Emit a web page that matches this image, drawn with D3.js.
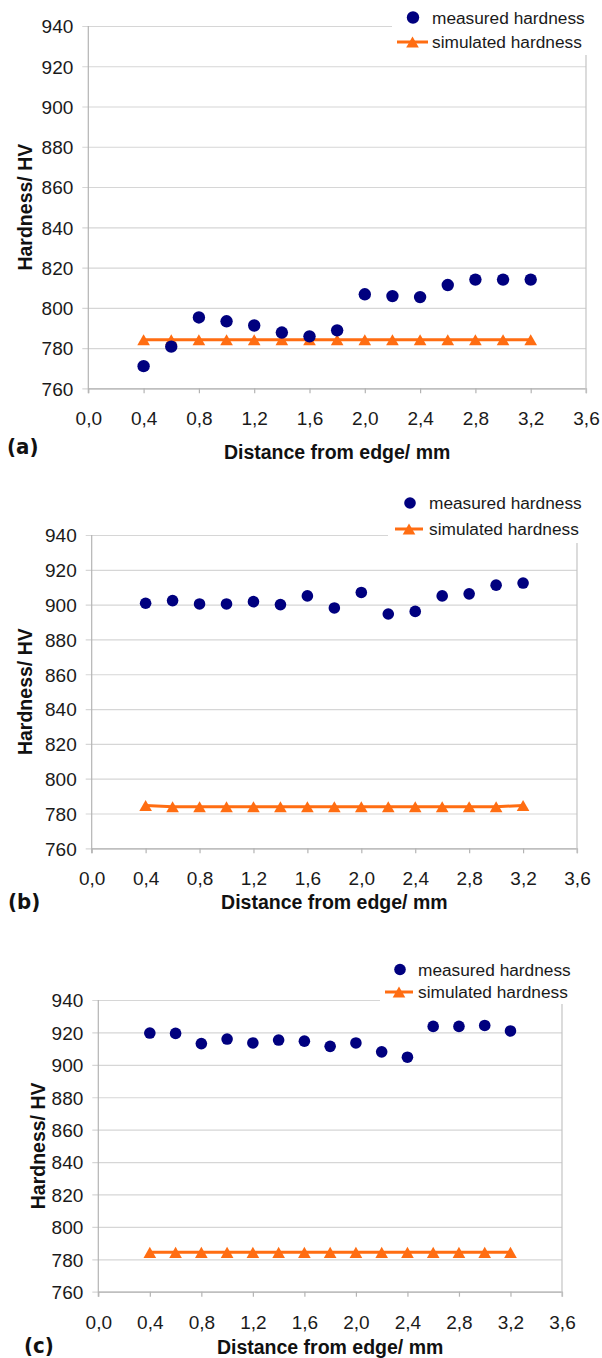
<!DOCTYPE html>
<html><head><meta charset="utf-8">
<script src="https://cdn.jsdelivr.net/npm/d3@7"></script>
<style>
body{margin:0;background:#fff;}
svg{display:block;font-family:"Liberation Sans",Arial,sans-serif;}
</style>
</head><body>
<svg id="chart" width="602" height="1358"></svg>
<script>
// ---------- data ----------
const xValues = [0.4, 0.6, 0.8, 1.0, 1.2, 1.4, 1.6, 1.8, 2.0, 2.2, 2.4, 2.6, 2.8, 3.0, 3.2];
const xTicks = [0, 0.4, 0.8, 1.2, 1.6, 2.0, 2.4, 2.8, 3.2, 3.6];
const yTicks = [760, 780, 800, 820, 840, 860, 880, 900, 920, 940];
const seriesNames = ["measured hardness", "simulated hardness"];
const panelTags = ["(a)", "(b)", "(c)"];
const xTitle = "Distance from edge/ mm";
const yTitle = "Hardness/ HV";

const measuredA  = [771.0, 780.7, 795.2, 793.3, 791.2, 787.7, 785.8, 788.8, 806.7, 805.8, 805.3, 811.3, 814.0, 814.0, 814.0];
const simulatedA = [784.1, 784.1, 784.1, 784.1, 784.1, 784.1, 784.1, 784.1, 784.1, 784.1, 784.1, 784.1, 784.1, 784.1, 784.1];
const measuredB  = [900.8, 902.3, 900.4, 900.4, 901.7, 900.0, 905.0, 898.1, 907.0, 894.6, 896.1, 905.0, 906.2, 911.2, 912.4];
const simulatedB = [784.6, 783.9, 783.9, 783.9, 783.9, 783.9, 783.9, 783.9, 783.9, 783.9, 783.9, 783.9, 783.9, 783.9, 784.6];
const measuredC  = [919.6, 919.4, 913.1, 915.9, 913.5, 915.3, 914.6, 911.4, 913.5, 908.0, 904.7, 923.7, 923.7, 924.3, 920.9];
const simulatedC = [784.3, 784.3, 784.3, 784.3, 784.3, 784.3, 784.3, 784.3, 784.3, 784.3, 784.3, 784.3, 784.3, 784.3, 784.3];

// ---------- layout ----------
const panels = [
  {measured: measuredA, simulated: simulatedA, tag: panelTags[0],
   left: 88.3, right: 586, top: 26, bottom: 388.3, r: 6.2,
   tagX: 7, tagY: 446, titleY: 452, yTitleX: 25,
   gapX: 392, rightStartY: 55,
   lg: {dotX: 413, row1: 17.5, row2: 42, lx1: 397, lx2: 428, tx: 432}},
  {measured: measuredB, simulated: simulatedB, tag: panelTags[1],
   left: 91.7, right: 577, top: 535, bottom: 848.3, r: 5.8,
   tagX: 8, tagY: 901, titleY: 902, yTitleX: 25,
   gapX: 388, rightStartY: 543,
   lg: {dotX: 410, row1: 503, row2: 529, lx1: 395, lx2: 423, tx: 429}},
  {measured: measuredC, simulated: simulatedC, tag: panelTags[2],
   left: 98.3, right: 562, top: 1000, bottom: 1291.7, r: 5.8,
   tagX: 24, tagY: 1345, titleY: 1347, yTitleX: 38,
   gapX: 380, rightStartY: 1004,
   lg: {dotX: 400, row1: 969.5, row2: 992, lx1: 385, lx2: 413, tx: 418}}
];

const navy = "#00007f", orange = "#ff6d12";
const gridColor = "#d6d6d6", axisColor = "#b4b4b4";
const fmt = v => d3.format(".1f")(v).replace(".", ",");

// triangle centred on its bounding box
const triType = {draw(ctx, size){ const w = Math.sqrt(size); const h = w*0.88;
  ctx.moveTo(0, -h/2); ctx.lineTo(w/2, h/2); ctx.lineTo(-w/2, h/2); ctx.closePath(); }};
const tri = d3.symbol().type(triType).size(160);

const svg = d3.select("#chart");

panels.forEach(p => {
  const x = d3.scaleLinear().domain([0, 3.6]).range([p.left, p.right]);
  const y = d3.scaleLinear().domain([760, 940]).range([p.bottom, p.top]);
  const g = svg.append("g");

  // horizontal grid + y axis labels
  const yAxis = g.append("g").attr("transform", `translate(${p.left},0)`)
    .call(d3.axisLeft(y).tickValues(yTicks).tickSizeOuter(0).tickFormat(d3.format("d")));
  yAxis.select(".domain").remove();
  yAxis.selectAll(".tick line")
    .attr("x1", -6)
    .attr("x2", d => d === 940 ? p.gapX - p.left : p.right - p.left)
    .attr("stroke", gridColor).attr("stroke-width", 1.2);
  yAxis.selectAll(".tick text")
    .attr("x", -15).attr("dy", "0.36em")
    .attr("font-size", 19).attr("fill", "#1a1a1a")
    .attr("font-family", "Liberation Sans, Arial, sans-serif");

  // x axis
  const xAxis = g.append("g").attr("transform", `translate(0,${p.bottom})`)
    .call(d3.axisBottom(x).tickValues(xTicks).tickSizeInner(5).tickSizeOuter(0).tickFormat(fmt));
  xAxis.select(".domain").attr("stroke", axisColor).attr("stroke-width", 1.2);
  xAxis.selectAll(".tick line").attr("stroke", axisColor).attr("stroke-width", 1.2);
  xAxis.selectAll(".tick text")
    .attr("y", 30).attr("dy", "0.36em")
    .attr("font-size", 19).attr("fill", "#1a1a1a")
    .attr("font-family", "Liberation Sans, Arial, sans-serif");

  // left axis and right border
  g.append("line").attr("x1", p.left).attr("x2", p.left).attr("y1", p.top).attr("y2", p.bottom + 5)
    .attr("stroke", axisColor).attr("stroke-width", 1.2);
  g.append("line").attr("x1", p.right).attr("x2", p.right).attr("y1", p.rightStartY).attr("y2", p.bottom + 5)
    .attr("stroke", "#c4c4c4").attr("stroke-width", 1.2);

  // simulated line + triangles
  const line = d3.line().x((d, i) => x(xValues[i])).y(d => y(d));
  g.append("path").datum(p.simulated).attr("d", line)
    .attr("fill", "none").attr("stroke", orange).attr("stroke-width", 3);
  g.selectAll(".tri").data(p.simulated).enter().append("path")
    .attr("transform", (d, i) => `translate(${x(xValues[i])},${y(d)})`)
    .attr("d", tri).attr("fill", orange);

  // measured dots
  g.selectAll(".dot").data(p.measured).enter().append("circle")
    .attr("cx", (d, i) => x(xValues[i])).attr("cy", d => y(d))
    .attr("r", p.r).attr("fill", navy);

  // legend
  const L = p.lg;
  g.append("circle").attr("cx", L.dotX).attr("cy", L.row1).attr("r", p.r).attr("fill", navy);
  g.append("text").attr("x", L.tx).attr("y", L.row1).attr("dy", "0.36em")
    .attr("font-size", 17.3).attr("fill", "#1a1a1a").text(seriesNames[0]);
  g.append("line").attr("x1", L.lx1).attr("x2", L.lx2).attr("y1", L.row2).attr("y2", L.row2)
    .attr("stroke", orange).attr("stroke-width", 3);
  g.append("path").attr("transform", `translate(${(L.lx1 + L.lx2) / 2},${L.row2})`)
    .attr("d", tri).attr("fill", orange);
  g.append("text").attr("x", L.tx).attr("y", L.row2).attr("dy", "0.36em")
    .attr("font-size", 17.3).attr("fill", "#1a1a1a").text(seriesNames[1]);

  // titles
  g.append("text").attr("x", (p.left + p.right) / 2).attr("y", p.titleY).attr("dy", "0.36em")
    .attr("text-anchor", "middle").attr("font-size", 19.5).attr("font-weight", "bold")
    .attr("fill", "#111").text(xTitle);
  g.append("text")
    .attr("transform", `translate(${p.yTitleX},${(p.top + p.bottom) / 2}) rotate(-90)`)
    .attr("dy", "0.36em").attr("text-anchor", "middle")
    .attr("font-size", 19.5).attr("font-weight", "bold").attr("fill", "#111").text(yTitle);

  // panel tag
  g.append("text").attr("x", p.tagX).attr("y", p.tagY).attr("dy", "0.36em")
    .attr("font-family", "DejaVu Sans Condensed, DejaVu Sans, sans-serif")
    .attr("font-size", 22).attr("font-weight", "bold").attr("fill", "#111")
    .text(p.tag);
});
</script>
</body></html>
